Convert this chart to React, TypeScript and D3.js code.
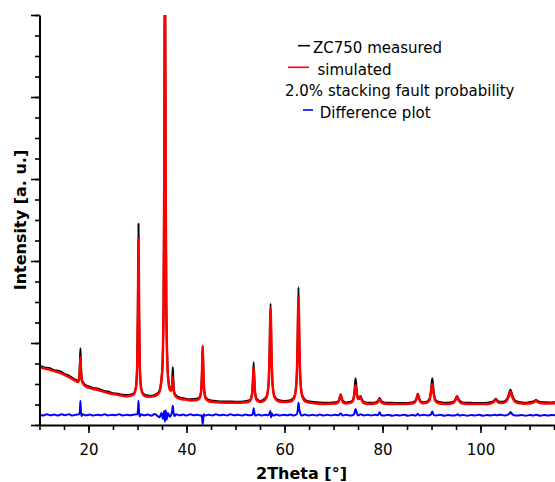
import React, { useEffect, useRef } from "react";
import * as d3 from "d3";

// 2θ positions (degrees) shared by the measured and simulated patterns
const twoTheta = [
  10, 11, 12, 13, 14, 15, 16, 17,
  17.39, 17.87, 18.11, 18.23, 18.35, 18.47, 18.59, 18.83, 19.31,
  20, 21, 22, 23, 24, 25, 26, 27, 28,
  29.16, 29.68, 29.94, 30.07, 30.2, 30.33, 30.46, 30.72, 31.24,
  32, 33, 34,
  34.48, 35.04, 35.32, 35.46, 35.6, 35.74, 35.88, 36.16, 36.5, 36.72, 36.92, 37.06, 37.2, 37.34, 37.48, 37.76, 38.3,
  39, 40, 41,
  42.1, 42.7, 43.0, 43.15, 43.3, 43.45, 43.6, 43.9, 44.5,
  45.5, 47, 49, 51,
  52.26, 52.98, 53.34, 53.52, 53.7, 53.88, 54.06, 54.42, 55.14,
  55.55, 56.35, 56.75, 56.95, 57.15, 57.35, 57.55, 57.95, 58.75, 60,
  61.25, 62.05, 62.45, 62.65, 62.85, 63.05, 63.25, 63.65, 64.45, 66, 68,
  70.45, 70.95, 71.2, 71.45, 71.7, 71.95, 72.45,
  73.5, 74.0, 74.25, 74.5, 74.75, 75.0, 75.25, 75.5, 75.75, 76.0, 76.5, 77.5,
  78.2, 78.8, 79.1, 79.4, 79.7, 80.0, 80.6, 82, 84,
  86.0, 86.6, 86.9, 87.2, 87.5, 87.8, 88.4,
  88.95, 89.55, 89.85, 90.15, 90.45, 90.75, 91.35, 92.5,
  93.8, 94.5, 94.85, 95.2, 95.55, 95.9, 96.6, 98, 100,
  101.5, 102.3, 102.7, 103.1, 103.5, 103.9, 104.5, 105.2, 105.65, 106.1, 106.55, 107.0, 107.9, 109,
  109.7, 110.5, 110.9, 111.3, 111.7, 112.1, 112.9, 114, 115.5,
];

// simulated pattern (red), arbitrary units
const simulated = [
  14.1, 13.8, 13.5, 13.15, 12.8, 12.3, 11.7, 11.0,
  10.7, 10.5, 11.4, 13.3, 16.5, 13.2, 11.2, 10.2, 9.55,
  9.1, 8.8, 8.5, 8.15, 7.8, 7.55, 7.35, 7.15, 7.0,
  7.4, 9.1, 14.5, 26.1, 45.4, 26.1, 14.4, 9.0, 7.25,
  6.9, 6.95, 7.35,
  8.1, 13.0, 28.4, 61.4, 116, 61.4, 28.4, 13.0, 9.0, 8.4, 8.4, 9.4, 11.7, 9.3, 7.8, 7.0, 6.55,
  6.3, 6.15, 6.0,
  6.1, 6.6, 8.45, 12.45, 19.2, 12.45, 8.4, 6.5, 5.85,
  5.6, 5.5, 5.45, 5.45,
  5.55, 5.92, 7.12, 9.7, 14.0, 9.7, 7.12, 5.92, 5.6,
  5.75, 6.8, 10.0, 16.95, 28.6, 16.95, 10.0, 6.8, 5.8, 5.6,
  5.75, 6.85, 10.5, 18.2, 31.1, 18.2, 10.5, 6.85, 5.65, 5.3, 5.15,
  5.25, 5.55, 6.2, 7.3, 6.2, 5.55, 5.25,
  5.4, 6.0, 7.4, 9.7, 7.6, 6.35, 6.35, 6.9, 6.1, 5.55, 5.25, 5.1,
  5.2, 5.35, 5.7, 6.3, 5.7, 5.35, 5.2, 5.1, 5.1,
  5.25, 5.55, 6.25, 7.4, 6.25, 5.55, 5.3,
  5.4, 5.95, 7.55, 10.0, 7.55, 5.95, 5.35, 5.15,
  5.2, 5.45, 6.0, 6.9, 6.0, 5.45, 5.2, 5.1, 5.1,
  5.15, 5.35, 5.65, 6.2, 5.65, 5.4, 5.35, 5.75, 6.6, 8.1, 6.6, 5.75, 5.3, 5.2,
  5.25, 5.35, 5.55, 5.9, 5.55, 5.35, 5.25, 5.25, 5.3,
];

// measured pattern ZC750 (black), arbitrary units
const measured = [
  14.45, 14.05, 13.9, 13.35, 13.2, 12.55, 12.05, 11.25,
  11.05, 10.75, 11.8, 14.6, 18.7, 14.3, 11.6, 10.55, 9.85,
  9.45, 9.05, 8.85, 8.35, 8.15, 7.75, 7.65, 7.35, 7.3,
  7.65, 9.3, 15.5, 28.5, 49.1, 28.0, 15.2, 9.3, 7.55,
  7.2, 7.15, 7.65,
  8.4, 13.4, 29.5, 63, 118, 62, 29, 13.5, 9.3, 8.75, 8.85, 10.4, 14.1, 10.5, 8.15, 7.35, 6.85,
  6.6, 6.35, 6.3,
  6.4, 6.85, 8.7, 12.8, 19.4, 12.6, 8.7, 6.75, 6.15,
  5.9, 5.75, 5.75, 5.65,
  5.85, 6.15, 7.4, 10.3, 15.3, 10.1, 7.3, 6.25, 5.85,
  6.05, 7.0, 10.3, 17.6, 29.6, 17.4, 10.3, 7.05, 6.1, 5.85,
  6.05, 7.1, 10.9, 19.3, 33.6, 19.0, 10.8, 7.15, 5.95, 5.6, 5.4,
  5.55, 5.8, 6.4, 7.5, 6.4, 5.85, 5.5,
  5.65, 6.25, 8.0, 11.4, 8.1, 6.65, 6.6, 7.1, 6.35, 5.85, 5.5, 5.4,
  5.45, 5.65, 5.95, 6.6, 5.9, 5.65, 5.45, 5.4, 5.35,
  5.5, 5.8, 6.45, 7.6, 6.5, 5.8, 5.55,
  5.65, 6.25, 8.1, 11.4, 8.0, 6.25, 5.65, 5.45,
  5.5, 5.7, 6.2, 7.1, 6.25, 5.75, 5.45, 5.4, 5.35,
  5.45, 5.6, 5.9, 6.4, 5.95, 5.65, 5.65, 6.05, 7.0, 8.6, 7.0, 6.05, 5.6, 5.45,
  5.5, 5.65, 5.8, 6.1, 5.85, 5.6, 5.55, 5.5, 5.6,
];

// difference plot (blue)
const diffTheta = [
  10, 10.8, 11.5, 12.3, 13, 13.8, 14.5, 15.2, 16, 16.7, 17.4,
  18.1, 18.25, 18.35, 18.45, 18.6, 18.8,
  19.5, 20.3, 21, 21.8, 22.5, 23.3, 24, 24.8, 25.5, 26.3, 27, 27.8, 28.5, 29.3,
  29.95, 30.1, 30.2, 30.3, 30.45, 30.7,
  31.4, 32.1, 32.8, 33.5, 34.0,
  34.5, 34.9, 35.2, 35.45, 35.6, 35.75, 35.95, 36.2, 36.6, 36.9,
  37.05, 37.2, 37.35, 37.55, 37.9,
  38.6, 39.3, 40, 40.8, 41.5, 42.2, 42.8,
  43.1, 43.2, 43.3, 43.4, 43.55, 43.8,
  44.5, 45.3, 46, 46.8, 47.5, 48.3, 49, 49.8, 50.5, 51.3, 52, 52.8,
  53.45, 53.6, 53.7, 53.85, 54.05,
  54.7, 55.4, 56.1, 56.7,
  56.95, 57.1, 57.25, 57.4, 57.7,
  58.4, 59.1, 59.8, 60.5, 61.2, 61.9,
  62.5, 62.7, 62.85, 63.0, 63.2, 63.5,
  64.2, 65, 65.7, 66.5, 67.2, 68, 68.7, 69.5, 70.2, 71.0, 71.45, 71.9, 72.6, 73.3, 74.0,
  74.25, 74.5, 74.75, 75.0, 75.5,
  76.2, 77, 77.7, 78.5, 79.1, 79.4, 79.7, 80.4, 81.2, 82, 82.8, 83.6, 84.4, 85.2, 86, 86.8,
  87.2, 87.6, 88.4, 89.2, 89.9, 90.15, 90.4, 91, 91.8, 92.6, 93.4, 94.2, 95, 95.3, 95.7,
  96.5, 97.3, 98.1, 98.9, 99.7, 100.5, 101.3, 102.1, 102.9, 103.3, 104.1, 104.9,
  105.6, 105.9, 106.15, 106.4, 106.8,
  107.6, 108.4, 109.2, 110, 110.8, 111.4, 112.2, 113, 113.8, 114.6, 115.5,
];
const difference = [
  2.5, 2.3, 2.6, 2.35, 2.55, 2.3, 2.6, 2.4, 2.65, 2.3, 2.5,
  2.6, 3.6, 5.9, 3.4, 2.2, 2.6,
  2.35, 2.55, 2.3, 2.5, 2.35, 2.6, 2.3, 2.5, 2.4, 2.65, 2.3, 2.5, 2.35, 2.55,
  2.6, 3.8, 5.9, 3.5, 2.1, 2.6,
  2.35, 2.55, 2.25, 2.7, 2.3,
  1.9, 2.9, 1.5, 3.4, 0.8, 3.6, 1.3, 2.9, 2.0, 2.6,
  3.3, 4.7, 3.1, 2.2, 2.6,
  2.35, 2.55, 2.3, 2.6, 2.35, 2.5, 2.3,
  2.4, 1.4, 0.2, 1.3, 2.6, 2.3,
  2.5, 2.3, 2.6, 2.35, 2.5, 2.3, 2.6, 2.35, 2.5, 2.3, 2.55, 2.35,
  2.5, 3.2, 4.1, 3.0, 2.3,
  2.55, 2.3, 2.5, 2.4,
  2.9, 3.4, 1.9, 2.8, 2.3,
  2.55, 2.3, 2.5, 2.35, 2.55, 2.3,
  2.6, 3.6, 5.4, 4.0, 2.9, 2.3,
  2.55, 2.3, 2.5, 2.3, 2.55, 2.3, 2.5, 2.3, 2.5, 2.35, 2.8, 2.3, 2.5, 2.3, 2.45,
  2.8, 3.9, 2.9, 2.3, 2.6,
  2.3, 2.5, 2.3, 2.5, 2.4, 3.1, 2.4, 2.3, 2.5, 2.25, 2.45, 2.3, 2.5, 2.25, 2.45, 2.3,
  2.7, 2.3, 2.5, 2.3, 2.6, 3.3, 2.5, 2.3, 2.5, 2.25, 2.45, 2.3, 2.4, 2.65, 2.3,
  2.45, 2.25, 2.45, 2.3, 2.5, 2.25, 2.45, 2.3, 2.5, 2.35, 2.5, 2.3,
  2.55, 2.8, 3.2, 2.7, 2.4,
  2.3, 2.45, 2.25, 2.45, 2.3, 2.5, 2.25, 2.45, 2.3, 2.45, 2.3,
];

const xMajorTicks = [20, 40, 60, 80, 100];
const xMinorTicks = [10, 15, 20, 25, 30, 35, 40, 45, 50, 55, 60, 65, 70, 75, 80, 85, 90, 95, 100, 105, 110, 115];
const yMajorTicks = [0, 20, 40, 60, 80, 100];
const yMinorTicks = [0, 5, 10, 15, 20, 25, 30, 35, 40, 45, 50, 55, 60, 65, 70, 75, 80, 85, 90, 95, 100];

const legendLabels = ["ZC750 measured", "simulated", "2.0% stacking fault probability", " Difference plot"];
const xTitle = "2Theta [°]";
const yTitle = "Intensity [a. u.]";

const W = 555;
const H = 482;
const P = { left: 39.5, right: 556.5, top: 15, bottom: 425 };
const FONT = "'DejaVu Sans', Verdana, sans-serif";

export default function App() {
  const ref = useRef<SVGSVGElement>(null);

  useEffect(() => {
    const svg = d3.select(ref.current);
    svg.selectAll("*").remove();

    const x = d3.scaleLinear().domain([10, 115.5]).range([P.left, P.right]);
    const y = d3.scaleLinear().domain([0, 100]).range([P.bottom, P.top]);

    svg
      .append("defs")
      .append("clipPath")
      .attr("id", "plotClip")
      .append("rect")
      .attr("x", P.left)
      .attr("y", P.top)
      .attr("width", P.right - P.left)
      .attr("height", P.bottom - P.top);

    const line = d3
      .line<[number, number]>()
      .x((d) => x(d[0]))
      .y((d) => y(d[1]))
      .curve(d3.curveMonotoneX);

    const plot = svg.append("g").attr("clip-path", "url(#plotClip)");

    const diffData = d3.zip(diffTheta, difference) as [number, number][];
    const measData = d3.zip(twoTheta, measured) as [number, number][];
    const simData = d3.zip(twoTheta, simulated) as [number, number][];

    plot
      .append("path")
      .datum(diffData)
      .attr("d", line)
      .attr("fill", "none")
      .attr("stroke", "#0000ff")
      .attr("stroke-width", 2)
      .attr("stroke-linejoin", "round");

    plot
      .append("path")
      .datum(measData)
      .attr("d", line)
      .attr("fill", "none")
      .attr("stroke", "#000000")
      .attr("stroke-width", 2)
      .attr("stroke-linejoin", "round");

    plot
      .append("path")
      .datum(simData)
      .attr("d", line)
      .attr("fill", "none")
      .attr("stroke", "#ff0000")
      .attr("stroke-width", 2.5)
      .attr("stroke-linejoin", "round");

    // axes
    const styleAxis = (g: d3.Selection<SVGGElement, unknown, null, undefined>) => {
      g.select(".domain").attr("stroke", "#000").attr("stroke-width", 2);
      g.selectAll(".tick line").attr("stroke", "#000").attr("stroke-width", 1.6);
      g.selectAll(".tick text").attr("fill", "#000").attr("font-size", 15).attr("font-family", FONT);
    };

    const xMinorG = svg
      .append("g")
      .attr("transform", `translate(0,${P.bottom})`)
      .call(d3.axisBottom(x).tickValues(xMinorTicks).tickSize(5).tickSizeOuter(0).tickFormat(() => ""));
    styleAxis(xMinorG);
    xMinorG.select(".domain").remove();

    const xMajorG = svg
      .append("g")
      .attr("transform", `translate(0,${P.bottom})`)
      .call(d3.axisBottom(x).tickValues(xMajorTicks).tickSize(8).tickSizeOuter(0).tickPadding(11).tickFormat(d3.format("d")));
    styleAxis(xMajorG);

    const yMinorG = svg
      .append("g")
      .attr("transform", `translate(${P.left},0)`)
      .call(d3.axisLeft(y).tickValues(yMinorTicks).tickSize(4.5).tickSizeOuter(0).tickFormat(() => ""));
    styleAxis(yMinorG);
    yMinorG.select(".domain").remove();

    const yMajorG = svg
      .append("g")
      .attr("transform", `translate(${P.left},0)`)
      .call(d3.axisLeft(y).tickValues(yMajorTicks).tickSize(8.5).tickSizeOuter(0).tickFormat(() => ""));
    styleAxis(yMajorG);

    // axis titles
    svg
      .append("text")
      .attr("x", 301.5)
      .attr("y", 479)
      .attr("text-anchor", "middle")
      .attr("font-family", FONT)
      .attr("font-weight", "bold")
      .attr("font-size", 16)
      .attr("fill", "#000")
      .text(xTitle);

    svg
      .append("text")
      .attr("transform", `translate(26,${(P.top + P.bottom) / 2}) rotate(-90)`)
      .attr("text-anchor", "middle")
      .attr("font-family", FONT)
      .attr("font-weight", "bold")
      .attr("font-size", 16)
      .attr("fill", "#000")
      .text(yTitle);

    // legend
    const legendRows = [
      { color: "#000000", x1: 298, x2: 310, ly: 45.7, tx: 313, ty: 53 },
      { color: "#ff0000", x1: 288, x2: 309, ly: 67.3, tx: 317.5, ty: 74.5 },
      { color: null, x1: 0, x2: 0, ly: 0, tx: 285, ty: 96 },
      { color: "#0000ff", x1: 303, x2: 313, ly: 110, tx: 315, ty: 117.5 },
    ];
    const lg = svg.append("g");
    legendRows.forEach((r, i) => {
      if (r.color) {
        lg.append("line")
          .attr("x1", r.x1)
          .attr("x2", r.x2)
          .attr("y1", r.ly)
          .attr("y2", r.ly)
          .attr("stroke", r.color)
          .attr("stroke-width", 1.6);
      }
      lg.append("text")
        .attr("x", r.tx)
        .attr("y", r.ty)
        .attr("font-family", FONT)
        .attr("font-size", 15)
        .attr("fill", "#000")
        .attr("xml:space", "preserve")
        .style("white-space", "pre")
        .text(legendLabels[i]);
    });
  }, []);

  return (
    <svg
      ref={ref}
      width={W}
      height={H}
      style={{ position: "absolute", left: 0, top: 0, background: "#ffffff" }}
    />
  );
}
